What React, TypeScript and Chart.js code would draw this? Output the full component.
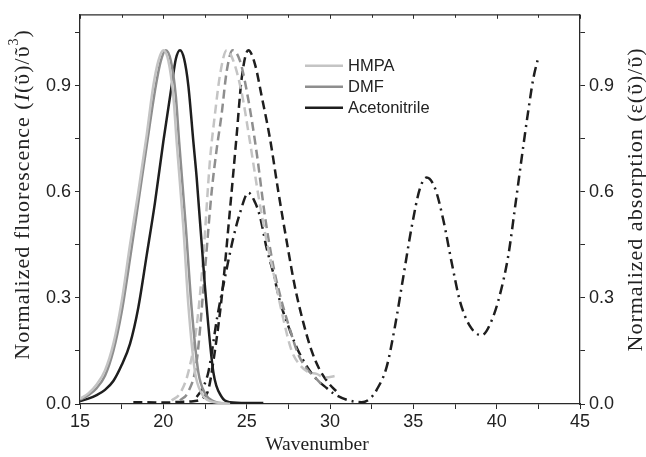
import React, { useEffect, useRef } from "react";
import { Chart, registerables } from "chart.js";
Chart.register(...registerables);

// ---- data ----
const HMPA_FL_X = [15, 15.5, 16, 16.5, 17, 17.5, 18, 18.5, 19, 19.4, 19.7, 20, 20.3, 20.6, 20.8, 21.2, 21.5, 21.9, 22.3, 22.8, 23.5, 24];
const HMPA_FL_Y = [0.015, 0.03, 0.055, 0.095, 0.17, 0.29, 0.45, 0.6, 0.76, 0.9, 0.97, 1.0, 0.97, 0.87, 0.74, 0.5, 0.28, 0.09, 0.03, 0.008, 0.003, 0.0];

const DMF_FL_X = [15, 15.5, 16, 16.5, 17, 17.5, 18, 18.5, 19, 19.55, 19.85, 20.15, 20.45, 20.75, 20.95, 21.35, 21.7, 22.1, 22.5, 23, 24];
const DMF_FL_Y = [0.012, 0.025, 0.045, 0.08, 0.15, 0.26, 0.41, 0.57, 0.73, 0.9, 0.97, 1.0, 0.97, 0.87, 0.74, 0.5, 0.27, 0.09, 0.03, 0.008, 0.0];

const ACN_FL_X = [15, 15.5, 16, 16.5, 17, 17.5, 18, 18.5, 19, 19.5, 20, 20.5, 20.75, 21, 21.25, 21.5, 21.8, 22, 22.5, 23, 23.5, 24, 25, 26];
const ACN_FL_Y = [0.008, 0.015, 0.025, 0.04, 0.065, 0.11, 0.17, 0.273, 0.42, 0.57, 0.742, 0.9, 0.975, 1.0, 0.975, 0.9, 0.742, 0.64, 0.33, 0.09, 0.02, 0.005, 0.003, 0.003];

const HMPA_AB_X = [20.5, 21, 21.5, 22, 22.4, 22.8, 23.1, 23.4, 23.8, 24.2, 24.7, 25.2, 25.7, 26.2, 26.7, 27.2, 27.7, 28.2, 28.7, 29.2, 29.7, 30.4];
const HMPA_AB_Y = [0.01, 0.03, 0.09, 0.22, 0.42, 0.69, 0.82, 0.93, 1.0, 0.97, 0.88, 0.74, 0.59, 0.46, 0.35, 0.24, 0.15, 0.11, 0.09, 0.085, 0.075, 0.08];

const DMF_AB_X = [21, 21.5, 22, 22.5, 22.9, 23.2, 23.5, 23.8, 24.15, 24.6, 25.1, 25.6, 26.1, 26.6, 27.1, 27.6, 28.1, 28.6, 29.1, 29.6];
const DMF_AB_Y = [0.01, 0.035, 0.12, 0.38, 0.6, 0.72, 0.82, 0.94, 1.0, 0.97, 0.86, 0.71, 0.53, 0.39, 0.29, 0.21, 0.14, 0.1, 0.075, 0.05];

const ACN_AB_X = [18.2, 19, 20, 21, 21.8, 22.3, 22.7, 23, 23.5, 24, 24.4, 24.7, 25.1, 25.5, 25.9, 26.4, 26.9, 27.4, 27.9, 28.4, 28.9, 29.4, 29.9, 30.5];
const ACN_AB_Y = [0.005, 0.005, 0.004, 0.006, 0.008, 0.015, 0.04, 0.12, 0.3, 0.55, 0.76, 0.92, 1.0, 0.96, 0.87, 0.75, 0.6, 0.46, 0.33, 0.23, 0.15, 0.095, 0.06, 0.03];

const ACN_AB2_X = [22.0, 22.3, 22.7, 23.25, 23.75, 24.2, 24.6, 25.1, 25.5, 25.8, 26.2, 26.6, 27.0, 27.5, 28.0, 28.7, 29.2, 29.8, 30.2, 31.0, 31.9, 32.4, 32.8, 33.4, 33.9, 34.4, 34.9, 35.4, 35.8, 36.3, 36.8, 37.3, 37.8, 38.4, 39.1, 39.7, 40.2, 40.7, 41.1, 41.5, 41.9, 42.2, 42.5];
const ACN_AB2_Y = [0.02, 0.04, 0.09, 0.25, 0.37, 0.47, 0.54, 0.597, 0.57, 0.53, 0.44, 0.37, 0.29, 0.22, 0.16, 0.1, 0.07, 0.045, 0.03, 0.012, 0.005, 0.015, 0.04, 0.105, 0.22, 0.36, 0.5, 0.61, 0.64, 0.61, 0.52, 0.4, 0.29, 0.22, 0.194, 0.236, 0.31, 0.42, 0.555, 0.695, 0.83, 0.92, 0.98];

const X_TICKS = [15, 17.5, 20, 22.5, 25, 27.5, 30, 32.5, 35, 37.5, 40, 42.5, 45];
const X_LABELS = [15, 20, 25, 30, 35, 40, 45];
const Y_TICKS = [0, 0.15, 0.3, 0.45, 0.6, 0.75, 0.9, 1.05];
const Y_LABELS = [0, 0.3, 0.6, 0.9];
const LEGEND_LABELS = ["HMPA", "DMF", "Acetonitrile"];
const COLORS = ["#c4c4c4", "#8e8e8e", "#1e1e1e"];

const SANS = '"Liberation Sans", Arial, sans-serif';
const SERIF = '"Liberation Serif", "Times New Roman", serif';
const AXIS_COLOR = "#2a2a2a";

const pts = (xs: number[], ys: number[]) => xs.map((x, i) => ({ x, y: ys[i] }));
const isIn = (arr: number[], v: number) => arr.some((a) => Math.abs(a - v) < 1e-6);

type Seg = { t: string; italic?: boolean; sup?: boolean };

function drawRich(ctx: CanvasRenderingContext2D, segs: Seg[], cx: number, cy: number, rot: number, size: number, spacing = 0) {
  const fontFor = (s: Seg) => `${s.italic ? "italic " : ""}${s.sup ? Math.round(size * 0.62) : size}px ${SERIF}`;
  const c: any = ctx;
  c.letterSpacing = `${spacing}px`;
  let total = 0;
  const widths = segs.map((s) => {
    ctx.font = fontFor(s);
    const w = ctx.measureText(s.t).width;
    total += w;
    return w;
  });
  ctx.save();
  ctx.translate(cx, cy);
  ctx.rotate(rot);
  ctx.fillStyle = "#222";
  ctx.textBaseline = "middle";
  ctx.textAlign = "left";
  let x = -total / 2;
  segs.forEach((s, i) => {
    ctx.font = fontFor(s);
    ctx.fillText(s.t, x, s.sup ? -size * 0.38 : 0);
    x += widths[i];
  });
  ctx.restore();
  c.letterSpacing = "0px";
}

const decorPlugin = {
  id: "decor",
  afterDraw(chart: any) {
    const { ctx, chartArea } = chart;
    const xs = chart.scales.x;
    ctx.save();
    // top frame + inward ticks
    ctx.strokeStyle = AXIS_COLOR;
    ctx.lineWidth = 1.3;
    ctx.beginPath();
    ctx.moveTo(chartArea.left, chartArea.top);
    ctx.lineTo(chartArea.right, chartArea.top);
    ctx.stroke();
    ctx.lineWidth = 1;
    X_TICKS.forEach((v) => {
      const px = Math.round(xs.getPixelForValue(v)) + 0.5;
      ctx.beginPath();
      ctx.moveTo(px, chartArea.top);
      ctx.lineTo(px, chartArea.top + (isIn(X_LABELS, v) ? 4 : 3));
      ctx.stroke();
    });
    // legend
    const lx = chartArea.left + 225;
    LEGEND_LABELS.forEach((lab, i) => {
      const y = chartArea.top + 51 + i * 21;
      ctx.strokeStyle = COLORS[i];
      ctx.lineWidth = 2.5;
      ctx.beginPath();
      ctx.moveTo(lx, y);
      ctx.lineTo(lx + 38, y);
      ctx.stroke();
      ctx.fillStyle = "#222";
      ctx.font = `16.5px ${SANS}`;
      ctx.textBaseline = "middle";
      ctx.textAlign = "left";
      ctx.fillText(lab, lx + 43, y + 1);
    });
    // axis titles
    const cx = (chartArea.left + chartArea.right) / 2;
    const cy = (chartArea.top + chartArea.bottom) / 2;
    drawRich(ctx, [{ t: "Wavenumber" }], cx - 13, 445, 0, 19.5);
    drawRich(
      ctx,
      [{ t: "Normalized fluorescence (" }, { t: "I", italic: true }, { t: "(ῦ)/ῦ" }, { t: "3", sup: true }, { t: ")" }],
      23,
      cy - 15,
      -Math.PI / 2,
      22,
      1
    );
    drawRich(ctx, [{ t: "Normalized absorption (ε(ῦ)/ῦ)" }], 636, cy - 10, -Math.PI / 2, 22, 1);
    ctx.restore();
  },
};

export default function App() {
  const ref = useRef<HTMLCanvasElement>(null);
  useEffect(() => {
    if (!ref.current) return;
    const line = (label: string, xs: number[], ys: number[], color: string, dash: number[], axis: string) => ({
      label,
      data: pts(xs, ys),
      borderColor: color,
      backgroundColor: color,
      borderWidth: 2.5,
      borderDash: dash,
      pointRadius: 0,
      fill: false,
      cubicInterpolationMode: "monotone" as const,
      yAxisID: axis,
    });
    const DASH = [9, 5];
    const DASHDOT = [10, 5, 2, 5];
    const yCommon = (pos: "left" | "right", width: number) => ({
      type: "linear" as const,
      position: pos,
      min: 0,
      max: 1.1,
      afterBuildTicks: (s: any) => {
        s.ticks = Y_TICKS.map((v) => ({ value: v }));
      },
      afterFit: (s: any) => {
        s.width = width;
      },
      ticks: {
        callback: (v: any) => (isIn(Y_LABELS, Number(v)) ? Number(v).toFixed(1) : ""),
        color: "#222",
        font: { family: SANS, size: 18 },
        padding: 4,
      },
      grid: { drawOnChartArea: false, tickLength: 5, tickColor: AXIS_COLOR, tickWidth: 1 },
      border: { display: true, color: AXIS_COLOR, width: 1.3 },
    });
    const chart = new Chart(ref.current, {
      type: "line",
      data: {
        datasets: [
          line("HMPA", HMPA_FL_X, HMPA_FL_Y, COLORS[0], [], "y"),
          line("DMF", DMF_FL_X, DMF_FL_Y, COLORS[1], [], "y"),
          line("Acetonitrile", ACN_FL_X, ACN_FL_Y, COLORS[2], [], "y"),
          line("HMPA abs", HMPA_AB_X, HMPA_AB_Y, COLORS[0], DASH, "y2"),
          line("DMF abs", DMF_AB_X, DMF_AB_Y, COLORS[1], DASH, "y2"),
          line("Acetonitrile abs", ACN_AB_X, ACN_AB_Y, COLORS[2], DASH, "y2"),
          line("Acetonitrile abs 2", ACN_AB2_X, ACN_AB2_Y, COLORS[2], DASHDOT, "y2"),
        ],
      },
      options: {
        animation: false,
        responsive: false,
        maintainAspectRatio: false,
        devicePixelRatio: 1,
        layout: { padding: { top: 13, left: 0, right: 0, bottom: 0 } },
        plugins: { legend: { display: false }, tooltip: { enabled: false } },
        scales: {
          x: {
            type: "linear",
            position: "bottom",
            min: 15,
            max: 45,
            afterBuildTicks: (s: any) => {
              s.ticks = X_TICKS.map((v) => ({ value: v }));
            },
            afterFit: (s: any) => {
              s.height = 53;
            },
            ticks: {
              callback: (v: any) => (isIn(X_LABELS, Number(v)) ? String(v) : ""),
              color: "#222",
              font: { family: SANS, size: 18 },
              maxRotation: 0,
              autoSkip: false,
              padding: 2,
            },
            grid: { drawOnChartArea: false, tickLength: 5, tickColor: AXIS_COLOR, tickWidth: 1 },
            border: { display: true, color: AXIS_COLOR, width: 1.3 },
          },
          y: yCommon("left", 80),
          y2: yCommon("right", 66),
        },
      },
      plugins: [decorPlugin],
    });
    return () => chart.destroy();
  }, []);
  return (
    <div style={{ position: "fixed", left: 0, top: 0, width: 646, height: 457, background: "#fff" }}>
      <canvas ref={ref} width={646} height={457} style={{ width: 646, height: 457, display: "block" }} />
    </div>
  );
}
